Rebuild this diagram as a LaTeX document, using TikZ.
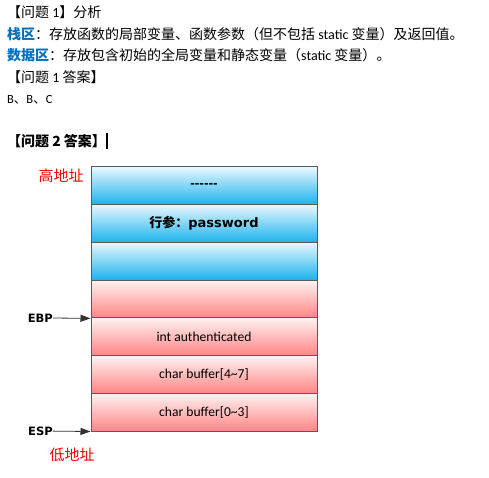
\documentclass[tikz,border=0pt]{standalone}
\usepackage{fontspec}
\setmainfont{Carlito}
\newfontfamily\cjk{Noto Sans CJK SC}
\newfontfamily\heavy{DejaVu Sans}
\usetikzlibrary{calc,arrows.meta}
\definecolor{bluetop}{HTML}{E8F7FE}
\definecolor{bluebot}{HTML}{1AB2EC}
\definecolor{redtop}{HTML}{FFF2F2}
\definecolor{redbot}{HTML}{FF8585}
\definecolor{hilite}{HTML}{0070C0}
\definecolor{edge}{HTML}{5A5A5A}
\newcommand{\zh}[1]{{\cjk #1}} % chinese text
\newcommand{\stackcell}[4] % name, row (1 = top), colour, label
{
	\node[cell, top color=#3top, bottom color=#3bot] (#1) at (204, {167+37.714*(#2-0.5)}) {#4};
}
\tikzset{
	txt/.style={anchor=west, inner sep=0pt, font=\fontsize{14}{16}\selectfont},
	cell/.style={draw=edge, line width=1pt, minimum width=226, minimum height=37.714, inner sep=0pt, font=\fontsize{13.6}{15}\selectfont},
	addr/.style={inner sep=0pt, text=red, font=\fontsize{15}{18}\selectfont\cjk},
	reg/.style={inner sep=0pt, anchor=east, font=\fontsize{11.5}{14}\selectfont\heavy\bfseries},
	ptr/.style={-{Triangle[length=10pt,width=7pt]}, black!80, line width=0.8pt}
}
\begin{document}
\begin{tikzpicture}[x=1pt, y=-1pt]
	\useasboundingbox (0,0) rectangle (489,478);
	% answer text
	\node[txt] (l1) at (7,12) {\zh{【问题} 1\zh{】分析}};
	\node[txt] (l2) at (7,34) {\zh{\textbf{\color{hilite}栈区}：存放函数的局部变量、函数参数（但不包括} static \zh{变量）及返回值。}};
	\node[txt] (l3) at (7,55) {\zh{\textbf{\color{hilite}数据区}：存放包含初始的全局变量和静态变量（}static \zh{变量）。}};
	\node[txt] (l4) at (7,77) {\zh{【问题} 1 \zh{答案】}};
	\node[txt, font=\fontsize{12.5}{15}\selectfont] (l5) at (7,100) {B\zh{、}B\zh{、}C};
	\node[txt] (l6) at (7,141) {\zh{\textbf{【问题} \textbf{2} \textbf{答案】}}\rule[-0.2em]{2pt}{1.15em}};
	% stack
	\stackcell{c1}{1}{blue}{\fontsize{11}{13}\selectfont\heavy\bfseries ------}
	\stackcell{c2}{2}{blue}{\fontsize{13}{15}\selectfont\zh{\textbf{行参：}}\heavy\bfseries password}
	\stackcell{c3}{3}{blue}{}
	\stackcell{c4}{4}{red}{}
	\stackcell{c5}{5}{red}{int authenticated}
	\stackcell{c6}{6}{red}{char buffer[4\textasciitilde7]}
	\stackcell{c7}{7}{red}{char buffer[0\textasciitilde3]}
	% addresses
	\node[addr] (high) at (61,176) {高地址};
	\node[addr] (low) at (72,455) {低地址};
	% registers
	\node[reg] (ebp) at (53,317.9) {EBP};
	\node[reg] (esp) at (53,431) {ESP};
	\draw[ptr] (ebp) -- (c4.south west);
	\draw[ptr] (esp) -- (c7.south west);
\end{tikzpicture}
\end{document}
